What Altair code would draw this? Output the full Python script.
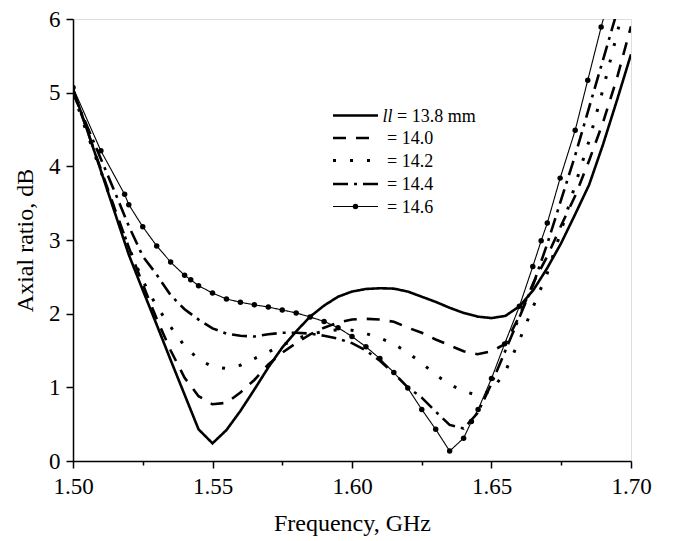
import altair as alt
import pandas as pd

FONT = "Liberation Serif"

# ---------------- data ----------------
f_138 = [1.500, 1.505, 1.510, 1.515, 1.520, 1.525, 1.530, 1.535, 1.540, 1.545, 1.550,
         1.555, 1.560, 1.565, 1.570, 1.575, 1.580, 1.585, 1.590, 1.595, 1.600, 1.605,
         1.610, 1.615, 1.620, 1.625, 1.630, 1.635, 1.640, 1.645, 1.650, 1.655, 1.660,
         1.665, 1.670, 1.675, 1.680, 1.685, 1.690, 1.695, 1.700]
ar_138 = [5.05, 4.50, 3.94, 3.37, 2.80, 2.32, 1.85, 1.37, 0.90, 0.43, 0.24,
          0.42, 0.68, 0.97, 1.27, 1.54, 1.76, 1.96, 2.11, 2.23, 2.30, 2.335,
          2.345, 2.34, 2.30, 2.23, 2.16, 2.08, 2.01, 1.96, 1.94, 1.97, 2.10,
          2.32, 2.62, 2.96, 3.35, 3.75, 4.30, 4.90, 5.52]

f_140 = [1.500, 1.505, 1.510, 1.515, 1.520, 1.525, 1.530, 1.535, 1.540, 1.545, 1.550,
         1.555, 1.560, 1.565, 1.570, 1.575, 1.580, 1.585, 1.590, 1.595, 1.600, 1.605,
         1.610, 1.615, 1.620, 1.625, 1.630, 1.635, 1.640, 1.645, 1.650, 1.655, 1.660,
         1.665, 1.670, 1.675, 1.680, 1.685, 1.690, 1.695, 1.700]
ar_140 = [5.02, 4.50, 3.96, 3.42, 2.90, 2.40, 1.93, 1.50, 1.13, 0.88, 0.77,
          0.79, 0.93, 1.10, 1.31, 1.47, 1.60, 1.72, 1.81, 1.88, 1.92, 1.93,
          1.92, 1.89, 1.81, 1.74, 1.65, 1.57, 1.49, 1.45, 1.49, 1.59, 1.97,
          2.42, 2.78, 3.20, 3.60, 4.08, 4.60, 5.20, 5.90]

f_142 = [1.500, 1.505, 1.510, 1.515, 1.520, 1.525, 1.530, 1.535, 1.540, 1.545, 1.550,
         1.555, 1.560, 1.565, 1.570, 1.575, 1.580, 1.585, 1.590, 1.595, 1.600, 1.605,
         1.610, 1.615, 1.620, 1.625, 1.630, 1.635, 1.640, 1.645, 1.650, 1.655, 1.660,
         1.665, 1.670, 1.675, 1.680, 1.685, 1.690, 1.695, 1.700]
ar_142 = [5.00, 4.45, 3.93, 3.40, 2.90, 2.45, 2.10, 1.82, 1.56, 1.38, 1.28,
          1.255, 1.30, 1.39, 1.48, 1.57, 1.66, 1.72, 1.76, 1.78, 1.775, 1.73,
          1.67, 1.59, 1.47, 1.33, 1.17, 1.04, 0.95, 0.89, 0.95, 1.22, 1.64,
          2.10, 2.55, 3.13, 3.75, 4.35, 5.05, 5.80, 6.60]

f_144 = [1.500, 1.505, 1.510, 1.515, 1.520, 1.525, 1.530, 1.535, 1.540, 1.545, 1.550,
         1.555, 1.560, 1.565, 1.570, 1.575, 1.580, 1.585, 1.590, 1.595, 1.600, 1.605,
         1.610, 1.615, 1.620, 1.625, 1.630, 1.635, 1.640, 1.645, 1.650, 1.655, 1.660,
         1.665, 1.670, 1.675, 1.680, 1.685, 1.690, 1.695, 1.700]
ar_144 = [5.00, 4.55, 4.10, 3.65, 3.19, 2.78, 2.53, 2.25, 2.06, 1.92, 1.80,
          1.73, 1.70, 1.69, 1.72, 1.74, 1.74, 1.73, 1.70, 1.66, 1.60, 1.50,
          1.36, 1.19, 1.00, 0.86, 0.67, 0.49, 0.44, 0.65, 1.05, 1.50, 1.95,
          2.40, 2.95, 3.55, 4.15, 4.80, 5.45, 6.10, 6.80]

f_146 = [1.500, 1.510, 1.5185, 1.520, 1.525, 1.530, 1.535, 1.540, 1.5422, 1.545, 1.550,
         1.555, 1.560, 1.565, 1.570, 1.575, 1.580, 1.585, 1.590, 1.595, 1.600, 1.605,
         1.610, 1.615, 1.620, 1.625, 1.630, 1.635, 1.640, 1.6428, 1.6452, 1.650, 1.6547,
         1.660, 1.6648, 1.6678, 1.670, 1.6746, 1.680, 1.6845, 1.6893, 1.695]
ar_146 = [5.07, 4.21, 3.62, 3.48, 3.18, 2.92, 2.70, 2.52, 2.46, 2.38, 2.28,
          2.20, 2.155, 2.12, 2.09, 2.05, 2.01, 1.955, 1.895, 1.81, 1.69, 1.55,
          1.39, 1.20, 0.99, 0.70, 0.43, 0.135, 0.31, 0.535, 0.70, 1.12, 1.59,
          2.10, 2.64, 2.99, 3.23, 3.84, 4.49, 5.17, 5.89, 6.70]

x_ticks = [1.500, 1.525, 1.550, 1.575, 1.600, 1.625, 1.650, 1.675, 1.700]
y_ticks = [0, 0.5, 1, 1.5, 2, 2.5, 3, 3.5, 4, 4.5, 5, 5.5, 6]

legend_labels = ["= 13.8 mm", "= 14.0", "= 14.2", "= 14.4", "= 14.6"]

# ---------------- styles ----------------
styles = [
    dict(width=2.6, dash=[1, 0]),
    dict(width=2.6, dash=[13, 10]),
    dict(width=3.0, dash=[3, 14]),
    dict(width=2.6, dash=[15, 6, 3, 6]),
    dict(width=1.1, dash=[1, 0]),
]
series = [(f_138, ar_138), (f_140, ar_140), (f_142, ar_142), (f_144, ar_144), (f_146, ar_146)]

x_axis = alt.Axis(
    values=x_ticks,
    labelExpr="round(datum.value*1000) % 50 == 0 ? format(datum.value, '.2f') : ''",
    tickSize={"condition": {"test": "round(datum.value*1000) % 50 == 0", "value": 7}, "value": 4},
    labelFont=FONT, labelFontSize=23, labelColor="black", labelPadding=7,
    labelFlush=False, labelOverlap=False, labelBound=False,
    titleFont=FONT, titleFontSize=24, titleFontWeight="normal", titleColor="black", titlePadding=13,
    domainColor="black", domainWidth=1.5, tickColor="black", tickWidth=1.5, grid=False,
)
y_axis = alt.Axis(
    values=y_ticks,
    labelExpr="datum.value % 1 == 0 ? format(datum.value, 'd') : ''",
    tickSize={"condition": {"test": "datum.value % 1 == 0", "value": 7}, "value": 4},
    labelFont=FONT, labelFontSize=23, labelColor="black", labelPadding=6,
    labelFlush=False, labelOverlap=False, labelBound=False,
    titleFont=FONT, titleFontSize=24, titleFontWeight="normal", titleColor="black", titlePadding=11,
    domainColor="black", domainWidth=1.5, tickColor="black", tickWidth=1.5, grid=False,
)
xs = alt.Scale(domain=[1.5, 1.7], nice=False, zero=False)
ys = alt.Scale(domain=[0, 6], nice=False, zero=False)

layers = []
for (fv, av), st in zip(series, styles):
    df = pd.DataFrame({"f": fv, "v": av})
    layers.append(
        alt.Chart(df).mark_line(color="black", strokeWidth=st["width"], strokeDash=st["dash"],
                                clip=True, strokeJoin="miter")
        .encode(x=alt.X("f:Q", scale=xs, axis=x_axis, title="Frequency, GHz"),
                y=alt.Y("v:Q", scale=ys, axis=y_axis, title="Axial ratio, dB"))
    )

# markers of the 14.6 mm curve
df146 = pd.DataFrame({"f": f_146, "v": ar_146})
layers.append(
    alt.Chart(df146).mark_point(filled=True, color="black", size=30, opacity=1, clip=True)
    .encode(x=alt.X("f:Q", scale=xs), y=alt.Y("v:Q", scale=ys))
)

# ---------------- legend (drawn inside plot) ----------------
row_y = [96.5, 119.0, 141.5, 165.0, 187.5]
one = pd.DataFrame({"k": [0]})
for i, (lab, st) in enumerate(zip(legend_labels, styles)):
    layers.append(
        alt.Chart(one).mark_rule(color="black", strokeWidth=st["width"], strokeDash=st["dash"])
        .encode(x=alt.value(260), x2=alt.value(305), y=alt.value(row_y[i]))
    )
    tx = 324 if i == 0 else 314
    layers.append(
        alt.Chart(one).mark_text(text=lab, font=FONT, fontSize=18, color="black",
                                 align="left", baseline="middle")
        .encode(x=alt.value(tx), y=alt.value(row_y[i] + 1))
    )
layers.append(
    alt.Chart(one).mark_text(text="ll", font=FONT, fontSize=18, fontStyle="italic", color="black",
                             align="left", baseline="middle")
    .encode(x=alt.value(309.5), y=alt.value(row_y[0] + 1))
)
layers.append(
    alt.Chart(one).mark_point(filled=True, color="black", size=30, opacity=1)
    .encode(x=alt.value(282.5), y=alt.value(row_y[4]))
)

chart = alt.layer(*layers).properties(
    width=558, height=442, autosize="none",
    padding={"left": 65, "top": 11, "right": 40, "bottom": 76},
).configure_view(stroke=None).configure(background="white")

chart.save("out.html", embed_options={"renderer": "svg", "actions": False})
